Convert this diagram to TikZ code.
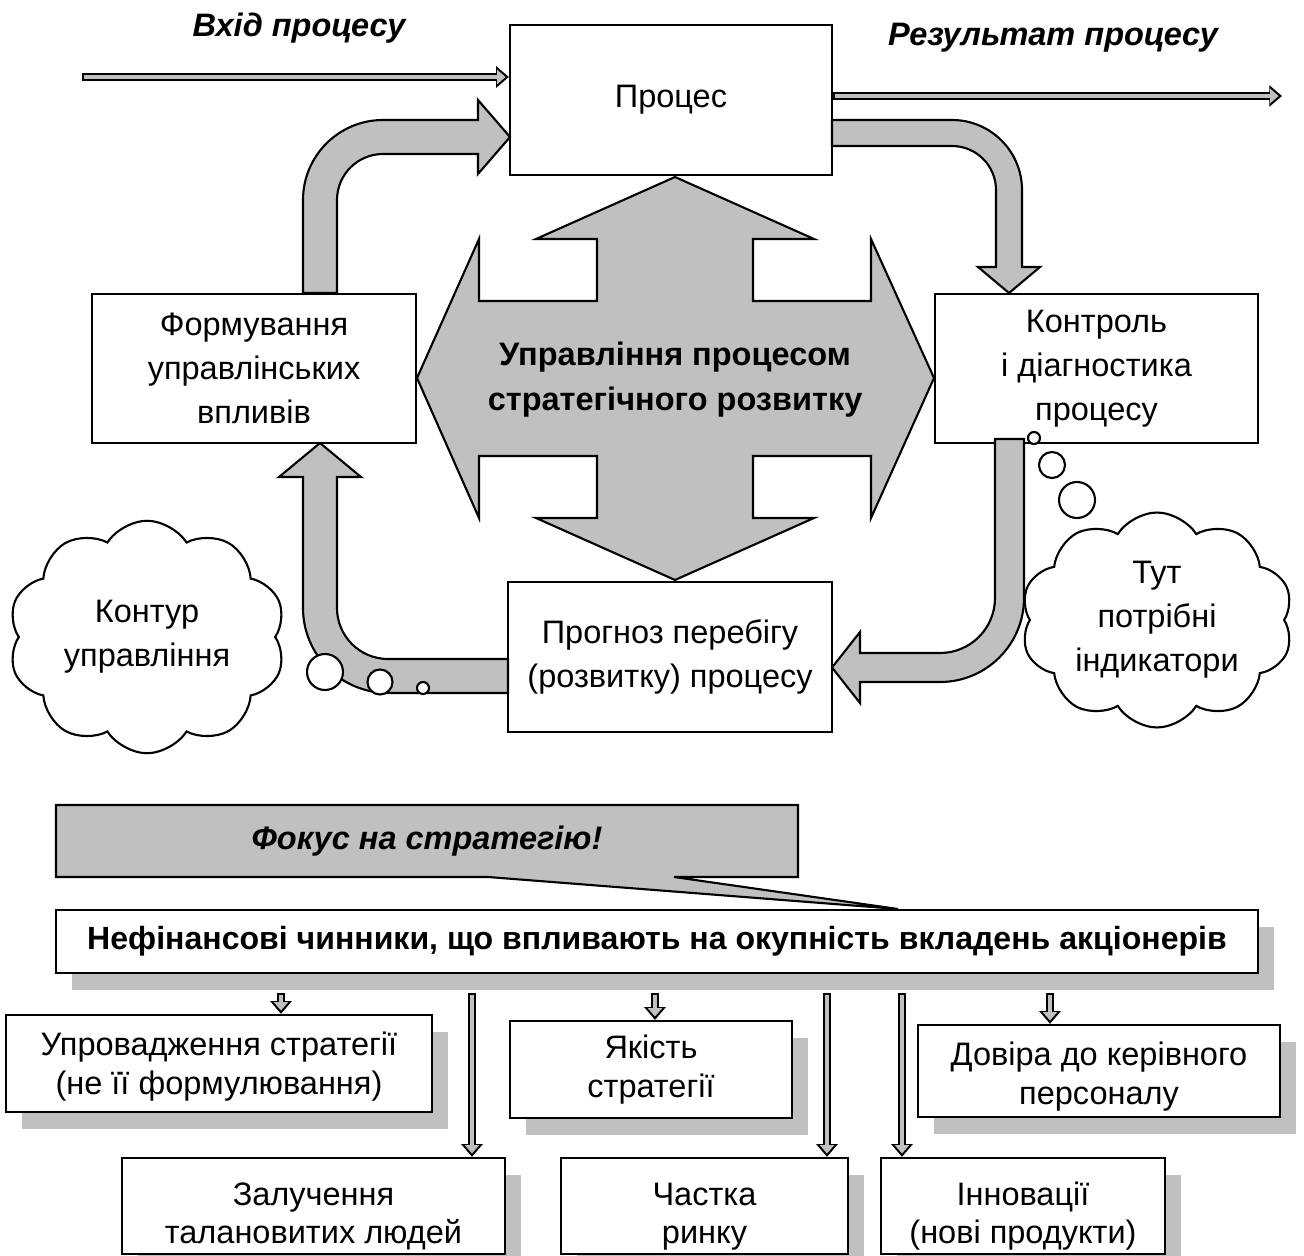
\documentclass[tikz,border=0pt]{standalone}
\usepackage{fontspec}
\setmainfont{Liberation Sans}
\usetikzlibrary{arrows.meta,shapes.symbols,shadows}

\definecolor{shapegray}{RGB}{192,192,192}

\tikzset{
  box/.style={draw, fill=white, line width=1.3pt, align=center, inner sep=0pt},
  boxshadow/.style={drop shadow={shadow xshift=0.32cm, shadow yshift=-0.34cm, fill=shapegray, opacity=1}},
  smallbox/.style={box, boxshadow, font=\fontsize{18.5}{22}\selectfont, text depth=4pt},
  textpos/.style={text height=#1},
  blockarrow/.style={draw, fill=shapegray, line width=1.2pt, line join=miter},
  thinarrow/.style={draw=shapegray, line width=2.5pt, shorten <=1pt, shorten >=1.9pt,
    -{Triangle[length=4.8pt, width=8pt]},
    preaction={draw=black, line width=4.5pt, shorten <=0pt, shorten >=0pt,
      -{Triangle[length=7.2pt, width=11.8pt]}}},
  puff/.style={draw, fill=white, line width=1.2pt},
  thought/.style={cloud, draw, fill=white, line width=1.2pt, cloud puffs=10, cloud puff arc=115,
    cloud ignores aspect, align=center, inner sep=0pt},
  heading/.style={font=\fontsize{18.5}{25}\selectfont\bfseries\itshape},
}

\begin{document}
\begin{tikzpicture}[x=0.02cm, y=0.02cm, font=\fontsize{18.5}{25}\selectfont]
\useasboundingbox (0,0) rectangle (1304,-1256);

%Central cross
\draw [blockarrow] (675,-177) -- (814,-239) -- (753,-239) -- (753,-301) -- (871,-301)
    -- (871,-239) -- (934,-378) -- (871,-518) -- (871,-456) -- (753,-456) -- (753,-518)
    -- (814,-518) -- (675,-580) -- (536,-518) -- (597,-518) -- (597,-456) -- (479,-456)
    -- (479,-518) -- (417,-378) -- (479,-239) -- (479,-301) -- (597,-301) -- (597,-239)
    -- (536,-239) -- cycle;
\node[font=\fontsize{18.5}{25.6}\selectfont\bfseries, align=center] (mgmt) at (675,-380)
    {Управління процесом\\стратегічного розвитку};

%Process loop
\node[box, minimum width=6.44cm, minimum height=3cm] (proc) at (671,-100) {Процес};
\node[box, minimum width=6.48cm, minimum height=2.98cm] (form) at (254,-368.5)
    {Формування\\управлінських\\впливів};
\node[box, minimum width=6.46cm, minimum height=2.98cm] (ctrl) at (1096.5,-368.5)
    {Контроль\\і діагностика\\процесу};
\node[box, minimum width=6.48cm, minimum height=3cm] (prog) at (670,-657)
    {Прогноз перебігу\\(розвитку) процесу};

\node[heading] (inlbl) at (299,-28) {Вхід процесу};
\node[heading] (outlbl) at (1053,-38) {Результат процесу};

\coordinate (inp) at (82,-77);
\coordinate (res) at (1282,-96);
\draw [thinarrow] (inp) -- (inp -| proc.west);
\draw [thinarrow] (proc.east |- res) -- (res);

%Bent arrows
\draw [blockarrow] (303,-293) -- (303,-200) arc[start angle=180, end angle=90, radius=80]
    -- (478,-120) -- (478,-100) -- (510,-137) -- (478,-174) -- (478,-154) -- (383,-154)
    arc[start angle=90, end angle=180, radius=46] -- (337,-293) -- cycle;
\draw [blockarrow] (832,-120) -- (952,-120) arc[start angle=90, end angle=0, radius=70]
    -- (1022,-267) -- (1040,-267) -- (1009,-293) -- (978,-267) -- (996,-267) -- (996,-190)
    arc[start angle=0, end angle=90, radius=44] -- (832,-146) -- cycle;
\draw [blockarrow] (995,-439) -- (1024,-439) -- (1024,-598) arc[start angle=0, end angle=-90, radius=84]
    -- (860,-682) -- (860,-703) -- (832,-667.5) -- (860,-632) -- (860,-653) -- (940,-653)
    arc[start angle=-90, end angle=0, radius=55] -- cycle;
\draw [blockarrow] (508,-659) -- (508,-693) -- (388,-693) arc[start angle=-90, end angle=-180, radius=85]
    -- (303,-477) -- (279,-477) -- (320,-443) -- (361,-477) -- (337,-477) -- (337,-608)
    arc[start angle=180, end angle=270, radius=51] -- cycle;

%Clouds
\node[thought, minimum width=5.55cm, minimum height=4.65cm] (loop) at (147,-637) {Контур\\управління};
\node[thought, minimum width=5.45cm, minimum height=4.3cm] (need) at (1157,-620) {Тут\\потрібні\\індикатори};
\draw [puff] (325,-672) circle (18);
\draw [puff] (380,-682) circle (12.5);
\draw [puff] (423,-688) circle (6);
\draw [puff] (1034,-438) circle (6);
\draw [puff] (1052,-465) circle (13);
\draw [puff] (1077,-500) circle (18);

%Bottom part
\node[box, boxshadow, font=\fontsize{18.25}{25}\selectfont\bfseries, minimum width=24.04cm,
    minimum height=1.26cm] (nfin) at (657,-941.5)
    {Нефінансові чинники, що впливають на окупність вкладень акціонерів};
\draw [blockarrow] (56,-805) -- (798,-805) -- (798,-877) -- (674,-877) -- (898,-909)
    -- (488,-877) -- (56,-877) -- cycle;
\node[heading] (focus) at (427,-841) {Фокус на стратегію!};

\node[smallbox, textpos=39pt, minimum width=8.52cm, minimum height=1.94cm] (impl) at (219,-1063.5)
    {Упровадження стратегії\\(не її формулювання)};
\node[smallbox, textpos=36pt, minimum width=5.64cm, minimum height=1.94cm] (qual) at (651,-1069.5)
    {Якість\\стратегії};
\node[smallbox, textpos=42pt, minimum width=7.24cm, minimum height=1.84cm] (trust) at (1099,-1071)
    {Довіра до керівного\\персоналу};
\node[smallbox, textpos=47pt, minimum width=7.66cm, minimum height=1.92cm] (talent) at (313.5,-1206)
    {Залучення\\талановитих людей};
\node[smallbox, textpos=47pt, minimum width=5.74cm, minimum height=1.92cm] (share) at (704.5,-1206)
    {Частка\\ринку};
\node[smallbox, textpos=47pt, minimum width=5.68cm, minimum height=1.92cm] (innov) at (1023,-1206)
    {Інновації\\(нові продукти)};

\foreach \x/\t in {281/impl, 472/talent, 655/qual, 827/share, 902/innov, 1050/trust} {
  \coordinate (s) at (\x,-993);
  \draw [thinarrow] (s) -- (s |- \t.north);
}
\end{tikzpicture}
\end{document}
